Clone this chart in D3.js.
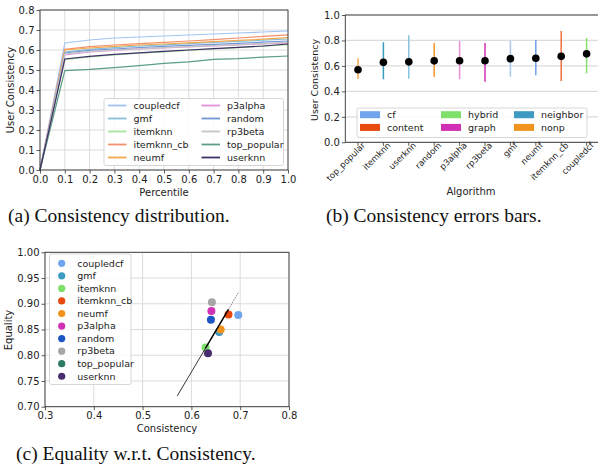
<!DOCTYPE html>
<html>
<head>
<meta charset="utf-8">
<script src="https://cdn.jsdelivr.net/npm/d3@7"></script>
<style>
  html, body { margin: 0; padding: 0; background: #fff; }
  svg { display: block; }
  .tick text { font-family: "DejaVu Sans", sans-serif; }
</style>
</head>
<body>
<svg id="fig" width="598" height="467"></svg>
<script>
// ---- (a) consistency distribution -------------------------------------
const percentiles = [0, 0.1, 0.2, 0.3, 0.4, 0.5, 0.6, 0.7, 0.8, 0.9, 1.0];
const lineNames = ["coupledcf", "gmf", "itemknn", "itemknn_cb", "neumf",
                   "p3alpha", "random", "rp3beta", "top_popular", "userknn"];
const lineColors = ["#a3c4f3", "#86bfd6", "#a6e39a", "#f3916c", "#f4a84c",
                    "#e390d9", "#7096d8", "#c6c6c6", "#5b9d85", "#3f2f68"];
const coupledcfDist   = [0, 0.635, 0.650, 0.660, 0.665, 0.670, 0.675, 0.680, 0.685, 0.690, 0.696];
const gmfDist         = [0, 0.590, 0.603, 0.612, 0.620, 0.626, 0.632, 0.638, 0.643, 0.649, 0.655];
const itemknnDist     = [0, 0.552, 0.565, 0.575, 0.584, 0.591, 0.598, 0.605, 0.612, 0.619, 0.627];
const itemknnCbDist   = [0, 0.603, 0.617, 0.625, 0.632, 0.638, 0.645, 0.652, 0.660, 0.668, 0.676];
const neumfDist       = [0, 0.600, 0.610, 0.618, 0.625, 0.630, 0.636, 0.642, 0.648, 0.654, 0.662];
const p3alphaDist     = [0, 0.575, 0.590, 0.598, 0.605, 0.611, 0.616, 0.621, 0.626, 0.631, 0.636];
const randomDist      = [0, 0.585, 0.598, 0.605, 0.612, 0.618, 0.623, 0.628, 0.633, 0.639, 0.645];
const rp3betaDist     = [0, 0.580, 0.593, 0.600, 0.607, 0.612, 0.617, 0.622, 0.627, 0.632, 0.638];
const topPopularDist  = [0, 0.497, 0.503, 0.512, 0.522, 0.533, 0.541, 0.553, 0.557, 0.564, 0.570];
const userknnDist     = [0, 0.555, 0.568, 0.578, 0.586, 0.593, 0.600, 0.607, 0.613, 0.620, 0.630];
const distSeries = [coupledcfDist, gmfDist, itemknnDist, itemknnCbDist, neumfDist,
                    p3alphaDist, randomDist, rp3betaDist, topPopularDist, userknnDist];
const distXTicks = [0, 0.1, 0.2, 0.3, 0.4, 0.5, 0.6, 0.7, 0.8, 0.9, 1.0];
const distYTicks = [0, 0.1, 0.2, 0.3, 0.4, 0.5, 0.6, 0.7, 0.8];

// ---- (b) consistency error bars ----------------------------------------
const algos    = ["top_popular", "itemknn", "userknn", "random", "p3alpha",
                  "rp3beta", "gmf", "neumf", "itemknn_cb", "coupledcf"];
const algoMean = [0.570, 0.628, 0.632, 0.640, 0.641, 0.641, 0.657, 0.660, 0.675, 0.695];
const algoLow  = [0.497, 0.495, 0.500, 0.513, 0.495, 0.476, 0.515, 0.526, 0.481, 0.542];
const algoHigh = [0.660, 0.786, 0.840, 0.780, 0.796, 0.780, 0.798, 0.804, 0.874, 0.820];
const algoBarColors = ["#f2a650", "#3a9bc0", "#86c3dc", "#f0962a", "#e58fd8",
                       "#d230b6", "#a8c8f2", "#6f9fe8", "#f07040", "#86e070"];
const families      = ["cf", "content", "hybrid", "graph", "neighbor", "nonp"];
const familyColors  = ["#70a5ee", "#e8490f", "#7ee06a", "#d130b4", "#3d9ac0", "#f0941e"];
const errYTicks = [0, 0.2, 0.4, 0.6, 0.8, 1.0];

// ---- (c) equality vs consistency ---------------------------------------
const scatterNames  = ["coupledcf", "gmf", "itemknn", "itemknn_cb", "neumf",
                       "p3alpha", "random", "rp3beta", "top_popular", "userknn"];
const scatterColors = ["#70a5ee", "#3d9ac0", "#7ee06a", "#e8490f", "#f0941e",
                       "#d130b4", "#1d56c4", "#a6a6a6", "#2b7a63", "#472d6b"];
const consistency   = [0.696, 0.657, 0.629, 0.676, 0.660, 0.641, 0.640, 0.642, 0.570, 0.634];
const equality      = [0.878, 0.845, 0.815, 0.879, 0.850, 0.886, 0.869, 0.903, 0.640, 0.804];
const fitX = [0.571, 0.629, 0.676, 0.697];   // fit segment: start, data range, end
const fitY = [0.721, 0.814, 0.889, 0.923];
const eqXTicks = [0.3, 0.4, 0.5, 0.6, 0.7, 0.8];
const eqYTicks = [0.70, 0.75, 0.80, 0.85, 0.90, 0.95, 1.00];

// ------------------------------------------------------------------------
const svg = d3.select("#fig");
const FONT = "DejaVu Sans, sans-serif";
const SERIF = "Liberation Serif, serif";
const SPINE = "#333";
const GRID = "#dcdcdc";

function frame(g, x0, y0, x1, y1) {
  g.append("rect").attr("x", x0).attr("y", y0)
    .attr("width", x1 - x0).attr("height", y1 - y0)
    .attr("fill", "none").attr("stroke", SPINE).attr("stroke-width", 0.9);
}
function styleAxis(sel, size) {
  sel.select(".domain").remove();
  sel.selectAll(".tick line").attr("stroke", SPINE).attr("stroke-width", 0.8);
  sel.selectAll(".tick text").attr("font-size", size).attr("fill", "#222")
    .attr("font-family", FONT);
}
function text(g, x, y, s, opts = {}) {
  const t = g.append("text").attr("x", x).attr("y", y).text(s)
    .attr("font-family", opts.family || FONT)
    .attr("font-size", opts.size || 10)
    .attr("fill", opts.fill || "#222")
    .attr("text-anchor", opts.anchor || "start");
  if (opts.rotate) t.attr("transform", `rotate(${opts.rotate},${x},${y})`);
  return t;
}

// ===== Panel (a) =====
{
  const g = svg.append("g");
  const x = d3.scaleLinear().domain([0, 1]).range([40, 288]);
  const y = d3.scaleLinear().domain([0, 0.8]).range([170, 10]);
  // grid
  g.append("g").selectAll("line").data(distXTicks).join("line")
    .attr("x1", d => x(d)).attr("x2", d => x(d)).attr("y1", 10).attr("y2", 170)
    .attr("stroke", GRID).attr("stroke-width", 1);
  g.append("g").selectAll("line").data(distYTicks).join("line")
    .attr("y1", d => y(d)).attr("y2", d => y(d)).attr("x1", 40).attr("x2", 288)
    .attr("stroke", GRID).attr("stroke-width", 1);
  // lines
  const line = d3.line().x((d, i) => x(percentiles[i])).y(d => y(d));
  distSeries.forEach((s, i) => {
    g.append("path").datum(s).attr("d", line).attr("fill", "none")
      .attr("stroke", lineColors[i]).attr("stroke-width", 1.2);
  });
  frame(g, 40, 10, 288, 170);
  const ax = g.append("g").attr("transform", "translate(0,170)")
    .call(d3.axisBottom(x).tickValues(distXTicks).tickFormat(d3.format(".1f")).tickSize(3.5).tickPadding(2));
  styleAxis(ax, 10);
  const ay = g.append("g").attr("transform", "translate(40,0)")
    .call(d3.axisLeft(y).tickValues(distYTicks).tickFormat(d3.format(".1f")).tickSize(3.5).tickPadding(2));
  styleAxis(ay, 10);
  text(g, 164, 196, "Percentile", { anchor: "middle" });
  text(g, 14, 90, "User Consistency", { anchor: "middle", rotate: -90 });
  // legend
  const lg = g.append("g");
  lg.append("rect").attr("x", 104).attr("y", 98.5).attr("width", 179.5).attr("height", 67)
    .attr("rx", 2).attr("fill", "rgba(255,255,255,0.85)").attr("stroke", "#ccc").attr("stroke-width", 0.8);
  lineNames.forEach((n, i) => {
    const col = Math.floor(i / 5), row = i % 5;
    const lx = col === 0 ? 108 : 201.5;
    const ly = 105.5 + row * 13;
    lg.append("line").attr("x1", lx).attr("x2", lx + 18.5).attr("y1", ly).attr("y2", ly)
      .attr("stroke", lineColors[i]).attr("stroke-width", 1.8);
    text(lg, lx + 25.5, ly + 3.3, n, { size: 9.5 });
  });
  text(g, 8, 222, "(a) Consistency distribution.", { family: SERIF, size: 19.5, fill: "#111" });
}

// ===== Panel (b) =====
{
  const g = svg.append("g");
  const x = d3.scaleBand().domain(algos).range([345.3, 599.3]).paddingInner(0).paddingOuter(0);
  const cx = d => x(d) + x.bandwidth() / 2;
  const y = d3.scaleLinear().domain([0, 1]).range([142.3, 15]);
  g.append("g").selectAll("line").data(errYTicks).join("line")
    .attr("y1", d => y(d)).attr("y2", d => y(d)).attr("x1", 345.3).attr("x2", 599.3)
    .attr("stroke", GRID).attr("stroke-width", 1.2);
  // error bars
  algos.forEach((a, i) => {
    g.append("line").attr("x1", cx(a)).attr("x2", cx(a))
      .attr("y1", y(algoLow[i])).attr("y2", y(algoHigh[i]))
      .attr("stroke", algoBarColors[i]).attr("stroke-width", 1.5);
  });
  g.append("g").selectAll("circle").data(algos).join("circle")
    .attr("cx", d => cx(d)).attr("cy", (d, i) => y(algoMean[i])).attr("r", 3.8)
    .attr("fill", "#000");
  frame(g, 345.3, 15, 599.3, 142.3);
  const ay = g.append("g").attr("transform", "translate(345.3,0)")
    .call(d3.axisLeft(y).tickValues(errYTicks).tickFormat(d3.format(".1f")).tickSize(3.5).tickPadding(2));
  styleAxis(ay, 10);
  const ax = g.append("g").attr("transform", "translate(0,142.3)")
    .call(d3.axisBottom(x).tickSize(3.5).tickPadding(2));
  ax.select(".domain").remove();
  ax.selectAll(".tick line").attr("stroke", SPINE).attr("stroke-width", 0.8);
  ax.selectAll(".tick text").attr("font-size", 8.5).attr("font-family", FONT).attr("fill", "#222")
    .attr("text-anchor", "end").attr("dy", 0).attr("y", 8).attr("x", 3)
    .attr("transform", "rotate(-45)");
  text(g, 471, 195, "Algorithm", { anchor: "middle" });
  text(g, 318, 80, "User Consistency", { anchor: "middle", rotate: -90, size: 9.5 });
  // legend
  const lg = g.append("g");
  lg.append("rect").attr("x", 357).attr("y", 108).attr("width", 230).attr("height", 29.5)
    .attr("rx", 2).attr("fill", "rgba(255,255,255,0.85)").attr("stroke", "#ccc").attr("stroke-width", 0.8);
  const colX = [360, 441, 514];
  families.forEach((f, i) => {
    const col = Math.floor(i / 2), row = i % 2;
    const ly = 115 + row * 12.7;
    lg.append("rect").attr("x", colX[col]).attr("y", ly - 3.8).attr("width", 20).attr("height", 7)
      .attr("fill", familyColors[i]);
    text(lg, colX[col] + 27, ly + 3.3, f, { size: 9.5 });
  });
  text(g, 326, 222, "(b) Consistency errors bars.", { family: SERIF, size: 19.5, fill: "#111" });
}

// ===== Panel (c) =====
{
  const g = svg.append("g");
  const x = d3.scaleLinear().domain([0.3, 0.8]).range([45, 289]);
  const y = d3.scaleLinear().domain([0.7, 1.0]).range([406.7, 252.3]);
  g.append("g").selectAll("line").data(eqXTicks).join("line")
    .attr("x1", d => x(d)).attr("x2", d => x(d)).attr("y1", 252.3).attr("y2", 406.7)
    .attr("stroke", GRID).attr("stroke-width", 1);
  g.append("g").selectAll("line").data(eqYTicks).join("line")
    .attr("y1", d => y(d)).attr("y2", d => y(d)).attr("x1", 45).attr("x2", 289)
    .attr("stroke", GRID).attr("stroke-width", 1);
  const clip = svg.append("clipPath").attr("id", "clipc");
  clip.append("rect").attr("x", 45).attr("y", 252.3).attr("width", 244).attr("height", 154.4);
  const pg = g.append("g").attr("clip-path", "url(#clipc)");
  // points
  pg.selectAll("circle").data(scatterNames).join("circle")
    .attr("cx", (d, i) => x(consistency[i])).attr("cy", (d, i) => y(equality[i]))
    .attr("r", 4).attr("fill", (d, i) => scatterColors[i]);
  // fitted trend: thin across the full span, heavier over the data range
  pg.append("line").attr("x1", x(fitX[0])).attr("y1", y(fitY[0]))
    .attr("x2", x(fitX[2])).attr("y2", y(fitY[2]))
    .attr("stroke", "#222").attr("stroke-width", 0.9);
  pg.append("line").attr("x1", x(fitX[1])).attr("y1", y(fitY[1]))
    .attr("x2", x(fitX[2])).attr("y2", y(fitY[2]))
    .attr("stroke", "#000").attr("stroke-width", 1.4);
  pg.append("line").attr("x1", x(fitX[2])).attr("y1", y(fitY[2]))
    .attr("x2", x(fitX[3])).attr("y2", y(fitY[3]))
    .attr("stroke", "#666").attr("stroke-width", 0.8).attr("stroke-dasharray", "1.5,1");
  frame(g, 45, 252.3, 289, 406.7);
  const ax = g.append("g").attr("transform", "translate(0,406.7)")
    .call(d3.axisBottom(x).tickValues(eqXTicks).tickFormat(d3.format(".1f")).tickSize(3.5).tickPadding(2));
  styleAxis(ax, 10);
  const ay = g.append("g").attr("transform", "translate(45,0)")
    .call(d3.axisLeft(y).tickValues(eqYTicks).tickFormat(d3.format(".2f")).tickSize(3.5).tickPadding(2));
  styleAxis(ay, 10);
  text(g, 167, 432, "Consistency", { anchor: "middle" });
  text(g, 12, 330, "Equality", { anchor: "middle", rotate: -90 });
  // legend
  const lg = g.append("g");
  lg.append("rect").attr("x", 49.5).attr("y", 254).attr("width", 81.5).attr("height", 130.5)
    .attr("rx", 2).attr("fill", "rgba(255,255,255,0.85)").attr("stroke", "#ccc").attr("stroke-width", 0.8);
  scatterNames.forEach((n, i) => {
    const ly = 263.3 + i * 12.55;
    lg.append("circle").attr("cx", 61.7).attr("cy", ly).attr("r", 3.6).attr("fill", scatterColors[i]);
    text(lg, 77.3, ly + 3.3, n, { size: 9.5 });
  });
  text(g, 16, 460, "(c) Equality w.r.t. Consistency.", { family: SERIF, size: 19.5, fill: "#111" });
}
</script>
</body>
</html>
